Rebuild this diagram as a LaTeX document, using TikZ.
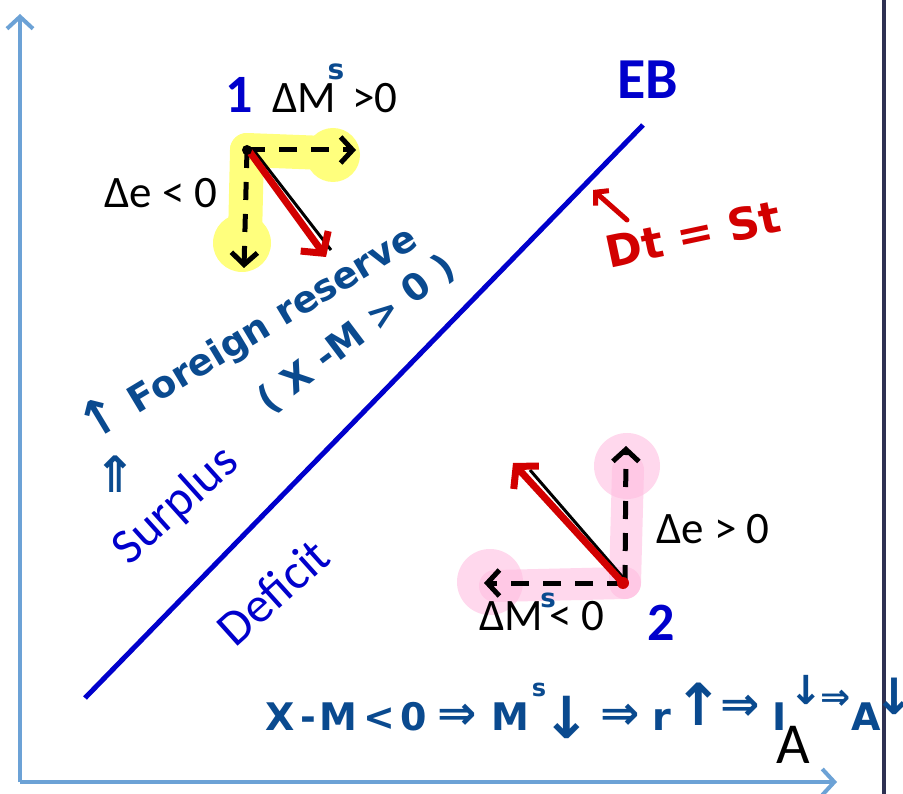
\documentclass[tikz,border=0pt]{standalone}
\usepackage{fontspec}
\setmainfont{Carlito}
\newfontfamily\hand{DejaVu Sans}
\usetikzlibrary{arrows.meta}
\definecolor{axisblue}{RGB}{108,162,214}
\definecolor{ebblue}{RGB}{0,0,204}
\definecolor{inkblue}{RGB}{10,74,143}
\definecolor{inkred}{RGB}{210,0,0}
\definecolor{frame}{RGB}{46,49,82}
\definecolor{hlyellow}{RGB}{255,255,125}
\definecolor{hlpink}{RGB}{255,190,225}
\tikzset{
  axisline/.style={draw=axisblue,line width=4pt,-{Straight Barb[length=12pt,width=26pt]}},
  dasharrow/.style={draw=black,line width=5pt,dash pattern=on 18pt off 14pt,-{Straight Barb[length=12pt,width=26pt]}},
  redarrow/.style={draw=inkred,line width=7pt,-{Straight Barb[length=15pt,width=34pt]}},
  shadowline/.style={draw=black,line width=3pt},
  yband/.style={draw=hlyellow,line width=34pt,line cap=round},
  pband/.style={draw=hlpink,line width=32pt,line cap=round,opacity=0.6},
  lbl/.style={font=\fontsize{45}{50}\selectfont,anchor=base west,inner sep=0pt},
  num/.style={font=\fontsize{54}{60}\selectfont\bfseries,text=ebblue,anchor=base west,inner sep=0pt},
  region/.style={font=\fontsize{50}{56}\selectfont,text=ebblue,inner sep=0pt},
  hw/.style={font=\hand\bfseries\fontsize{38}{42}\selectfont,text=inkblue,anchor=base,inner sep=0pt},
  hwa/.style={font=\hand\bfseries\fontsize{47}{50}\selectfont,text=inkblue,anchor=center,inner sep=0pt},
  hwv/.style={font=\hand\bfseries\fontsize{58}{62}\selectfont,text=inkblue,anchor=center,inner sep=0pt},
  hwr/.style={font=\hand\bfseries\fontsize{37}{42}\selectfont,text=inkblue,inner sep=0pt},
}
\begin{document}
\begin{tikzpicture}[x=1pt,y=-1pt]
\clip (0,0) rectangle (903,794);
\fill[white] (0,0) rectangle (903,794);
% frame line
\coordinate (ft) at (884,0);
\coordinate (fb) at (884,794);
\draw[frame,line width=4pt] (ft) -- (fb);
% axes
\coordinate (O) at (20,782);
\coordinate (ytop) at (20,14);
\coordinate (xend) at (837,782);
\draw[axisline] (O) -- (ytop);
\draw[axisline] (O) -- (xend);
\node[font=\fontsize{58}{64}\selectfont,anchor=base west,inner sep=0pt] (Alab) at (776,763) {A};
% EB line
\coordinate (eb0) at (85,698);
\coordinate (eb1) at (643,125);
\draw[ebblue,line width=5pt] (eb0) -- (eb1);
\node[font=\fontsize{58}{64}\selectfont\bfseries,text=ebblue,anchor=base west,inner sep=0pt] (EB) at (617,99) {EB};
% point 1 highlights
\coordinate (p1) at (247,150);
\coordinate (p1r) at (325,153);
\coordinate (p1d) at (245,238);
\draw[yband] (p1) -- (p1r);
\draw[yband] (p1) -- (p1d);
\fill[hlyellow] (333,155) circle (27);
\fill[hlyellow] (242,243) circle (29);
\coordinate (a1r) at (356,150);
\coordinate (a1d) at (244,268);
\draw[dasharrow] (p1) -- (a1r);
\draw[dasharrow] (p1) -- (a1d);
\coordinate (r1s) at (252,148);
\coordinate (r1e) at (331,250);
\draw[shadowline] (r1s) -- (r1e);
\coordinate (r1a) at (249,151);
\coordinate (r1b) at (326,257);
\draw[redarrow] (r1a) -- (r1b);
\fill[black] (p1) circle (5);
\node[num] (n1) at (225,113) {1};
\node[lbl] (dm1) at (272,113) {ΔM\hspace{6pt} >0};
\node[hwa,font=\hand\bfseries\fontsize{28}{30}\selectfont] (s1) at (336,72) {s};
\node[lbl] (de1) at (104,208) {Δe < 0};
% point 2 highlights
\coordinate (p2) at (625,583);
\coordinate (p2u) at (628,470);
\coordinate (p2l) at (495,586);
\draw[pband] (p2) -- (p2u);
\draw[pband] (p2) -- (p2l);
\fill[hlpink,opacity=0.6] (627,466) circle (33);
\fill[hlpink,opacity=0.6] (490,582) circle (33);
\coordinate (a2u) at (626,446);
\coordinate (a2l) at (484,583);
\draw[dasharrow] (p2) -- (a2u);
\draw[dasharrow] (p2) -- (a2l);
\coordinate (r2s) at (626,581);
\coordinate (r2e) at (530,470);
\draw[shadowline] (r2s) -- (r2e);
\coordinate (r2a) at (622,582);
\coordinate (r2b) at (513,463);
\draw[redarrow] (r2a) -- (r2b);
\fill[inkred] (623,583) circle (6);
\node[lbl] (de2) at (656,543) {Δe > 0};
\node[lbl] (dm2) at (479,630) {ΔM\hspace{6pt}< 0};
\node[hwa,font=\hand\bfseries\fontsize{26}{30}\selectfont] (s2) at (548,600) {s};
\node[num] (n2) at (647,640) {2};
% regions
\node[region,rotate=42] (sur) at (176,506) {Surplus};
\node[region,rotate=42] (def) at (273,592) {Deficit};
% handwritten notes
\node[hwr,rotate=31] (fr) at (248,332) {{\fontsize{50}{50}\selectfont ↑} Foreign reserve};
\node[hwr,rotate=37] (xm) at (357,334) {( X -M > 0 )};
\node[hwv,font=\hand\bfseries\fontsize{50}{54}\selectfont] (uu) at (115,474) {⇑};
% Dt = St
\coordinate (dta) at (627,220);
\coordinate (dtb) at (593,190);
\draw[inkred,line width=5pt,line cap=round,-{Straight Barb[length=9pt,width=20pt]}] (dta) -- (dtb);
\node[font=\hand\bfseries\fontsize{44}{48}\selectfont,text=inkred,rotate=12,inner sep=0pt] (dt) at (693,234) {Dt = St};
% bottom chain
\node[hw] (c1) at (280,730) {X};
\node[hw] (c1b) at (308,730) {-};
\node[hw] (c1c) at (338,730) {M};
\node[hw] (c1d) at (379,730) {<};
\node[hw] (c1e) at (414,730) {0};
\node[hwa] (c2) at (457,717) {⇒};
\node[hw] (c3) at (510,730) {M};
\node[hwa,font=\hand\bfseries\fontsize{24}{28}\selectfont] (c3s) at (539,690) {s};
\node[hwv] (c4) at (567,717) {↓};
\node[hwa] (c5) at (620,717) {⇒};
\node[hw] (c6) at (662,730) {r};
\node[hwv] (c7) at (699,704) {↑};
\node[hwa] (c8) at (740,708) {⇒};
\node[hw] (c9) at (780,730) {I};
\node[hwv,font=\hand\bfseries\fontsize{40}{44}\selectfont] (c10) at (806,690) {↓};
\node[hwa,font=\hand\bfseries\fontsize{36}{40}\selectfont] (c11) at (836,700) {⇒};
\node[hw] (c12) at (866,730) {A};
\node[hwv,font=\hand\bfseries\fontsize{50}{54}\selectfont] (c13) at (894,696) {↓};
\end{tikzpicture}
\end{document}
